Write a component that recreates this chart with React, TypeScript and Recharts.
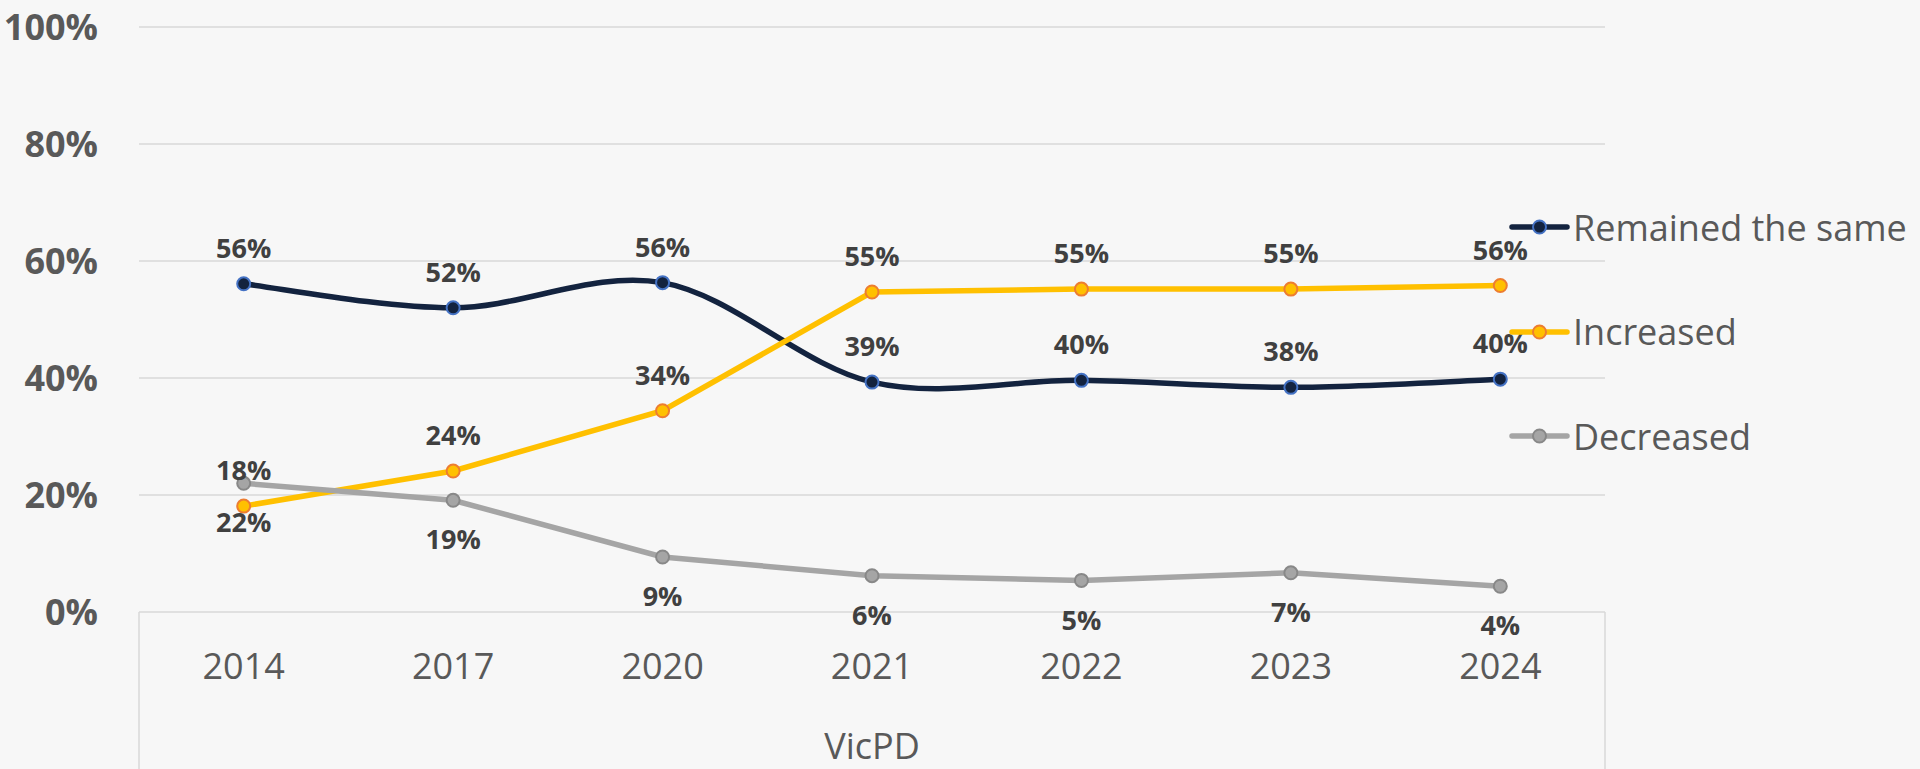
import { LineChart, Line, XAxis, YAxis, CartesianGrid, LabelList } from 'recharts'

const years = ['2014', '2017', '2020', '2021', '2022', '2023', '2024']
const remainedSame = [56.1, 52.0, 56.3, 39.3, 39.6, 38.4, 39.8]
const increased = [18.1, 24.1, 34.4, 54.7, 55.2, 55.2, 55.8]
const decreased = [22.0, 19.1, 9.4, 6.2, 5.4, 6.7, 4.4]
const yTicks = [0, 20, 40, 60, 80, 100]
const groupLabel = 'VicPD'

const series = [
  { key: 'remained', name: 'Remained the same', color: '#13233f', dotStroke: '#4472c4', labelPos: 'top' as const, smooth: true },
  { key: 'increased', name: 'Increased', color: '#ffc000', dotStroke: '#ed7d31', labelPos: 'top' as const, smooth: false },
  { key: 'decreased', name: 'Decreased', color: '#a5a5a5', dotStroke: '#888888', labelPos: 'bottom' as const, smooth: false },
]

const data = years.map((year, i) => ({
  year,
  remained: remainedSame[i],
  increased: increased[i],
  decreased: decreased[i],
}))

const FONT = '"Open Sans", sans-serif'

// excel-ish smoothed line (catmull-rom style bezier)
function excelSmooth(context: any) {
  let pts: number[][] = []
  return {
    areaStart() {},
    areaEnd() {},
    lineStart() {
      pts = []
    },
    point(x: number, y: number) {
      pts.push([+x, +y])
    },
    lineEnd() {
      if (!pts.length) return
      context.moveTo(pts[0][0], pts[0][1])
      for (let i = 0; i < pts.length - 1; i++) {
        const p0 = pts[i - 1] || pts[i]
        const p1 = pts[i]
        const p2 = pts[i + 1]
        const p3 = pts[i + 2] || pts[i + 1]
        context.bezierCurveTo(
          p1[0] + (p2[0] - p0[0]) / 6,
          p1[1] + (p2[1] - p0[1]) / 6,
          p2[0] - (p3[0] - p1[0]) / 6,
          p2[1] - (p3[1] - p1[1]) / 6,
          p2[0],
          p2[1]
        )
      }
    },
  }
}

function AxisBox(props: any) {
  const vb = props.viewBox
  if (!vb) return null
  return (
    <g>
      <line x1={vb.x} y1={vb.y} x2={vb.x} y2={vb.y + vb.height} stroke="#d9d9d9" strokeWidth={1.5} />
      <line x1={vb.x + vb.width} y1={vb.y} x2={vb.x + vb.width} y2={vb.y + vb.height} stroke="#d9d9d9" strokeWidth={1.5} />
      <text x={vb.x + vb.width / 2} y={759} textAnchor="middle" fill="#595959" fontSize={36} fontFamily={FONT}>
        {groupLabel}
      </text>
    </g>
  )
}

function LegendBlock() {
  return (
    <div style={{ position: 'absolute', left: 1509, top: 175, fontFamily: FONT }}>
      {series.map((s) => (
        <div key={s.key} style={{ height: 104.5, display: 'flex', alignItems: 'center' }}>
          <svg width={62} height={20}>
            <line x1={3} y1={10} x2={58} y2={10} stroke={s.color} strokeWidth={5.5} strokeLinecap="round" />
            <circle cx={30.5} cy={10} r={6.5} fill={s.color} stroke={s.dotStroke} strokeWidth={2} />
          </svg>
          <span style={{ fontSize: 36, color: '#595959', marginLeft: 2, whiteSpace: 'nowrap' }}>{s.name}</span>
        </div>
      ))}
    </div>
  )
}

export default function App() {
  return (
    <div style={{ position: 'absolute', left: 0, top: 0, width: 1920, height: 769, background: '#f7f7f7', overflow: 'hidden' }}>
      <LineChart width={1920} height={769} data={data} margin={{ top: 27, right: 315, bottom: 0, left: 0 }}>
        <CartesianGrid vertical={false} stroke="#d9d9d9" strokeWidth={1.5} />
        <XAxis
          dataKey="year"
          height={157}
          axisLine={false}
          tickLine={false}
          tickSize={0}
          tickMargin={41}
          padding={{ left: 104.7, right: 104.7 }}
          tick={{ fill: '#595959', fontSize: 36, fontFamily: FONT }}
          label={<AxisBox />}
        />
        <YAxis
          width={139}
          domain={[0, 100]}
          ticks={yTicks}
          axisLine={false}
          tickLine={false}
          tickSize={0}
          tickMargin={41}
          tickFormatter={(v: number) => `${v}%`}
          tick={{ fill: '#595959', fontSize: 36, fontWeight: 700, fontFamily: FONT }}
        />
        {series.map((s) => (
          <Line
            key={s.key}
            dataKey={s.key}
            name={s.name}
            type={s.smooth ? (excelSmooth as any) : 'linear'}
            stroke={s.color}
            strokeWidth={5.5}
            dot={{ r: 6.5, fill: s.color, stroke: s.dotStroke, strokeWidth: 2 }}
            activeDot={false}
            isAnimationActive={false}
          >
            <LabelList
              dataKey={s.key}
              position={s.labelPos}
              offset={s.labelPos === 'top' ? 26 : 30}
              formatter={(v: any) => `${Math.round(Number(v))}%`}
              fill="#404040"
              fontSize={27}
              fontWeight={700}
              fontFamily={FONT}
            />
          </Line>
        ))}
      </LineChart>
      <LegendBlock />
    </div>
  )
}
